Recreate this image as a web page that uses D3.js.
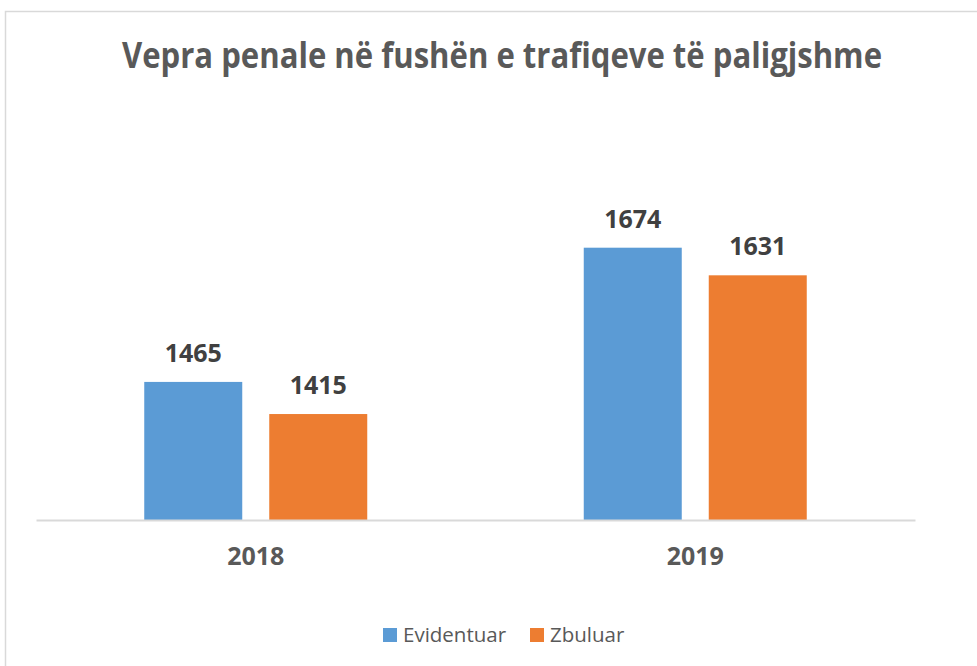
<!DOCTYPE html>
<html>
<head>
<meta charset="utf-8">
<script src="https://cdn.jsdelivr.net/npm/d3@7"></script>
<style>
  html, body { margin: 0; padding: 0; background: #fff; }
  svg { display: block; font-family: 'Open Sans', sans-serif; }
</style>
</head>
<body>
<script>
const years = ['2018', '2019'];
const seriesNames = ['Evidentuar', 'Zbuluar'];
const evidentuar = [1465, 1674];
const zbuluar = [1415, 1631];
const colors = ['#5B9BD5', '#ED7D31'];
const title = 'Vepra penale në fushën e trafiqeve të paligjshme';

const w = 977;
const h = 666;
const plot = { left: 36, right: 915, top: 231, bottom: 520 };

const dataset = years.map((y, i) => ({ year: y, values: [evidentuar[i], zbuluar[i]] }));

const svg = d3.select('body').append('svg').attr('width', w).attr('height', h);

// chart area border (cropped on right and bottom)
svg.append('rect')
   .attr('x', 5.5).attr('y', 11.5)
   .attr('width', 1000).attr('height', 1000)
   .attr('fill', '#fff')
   .attr('stroke', '#d9d9d9')
   .attr('stroke-width', 1.5);

svg.append('text')
   .text(title)
   .attr('x', 502).attr('y', 68)
   .attr('text-anchor', 'middle')
   .attr('textLength', 760)
   .attr('lengthAdjust', 'spacingAndGlyphs')
   .style('font-size', '35px')
   .style('font-weight', 'bold')
   .style('fill', '#595959');

const x0 = d3.scaleBand().domain(years).range([plot.left, plot.right]);
const x1 = d3.scaleBand().domain(seriesNames).range([0, x0.bandwidth()])
             .paddingInner(0.216).paddingOuter(0.866);
const y = d3.scaleLinear().domain([1250, 1700]).range([plot.bottom, plot.top]);

const groups = svg.selectAll('g.year')
   .data(dataset)
   .enter()
   .append('g')
   .attr('class', 'year')
   .attr('transform', (d) => 'translate(' + x0(d.year) + ',0)');

const bars = groups.selectAll('g.bar')
   .data((d) => d.values.map((v, i) => ({ name: seriesNames[i], value: v, color: colors[i] })))
   .enter()
   .append('g')
   .attr('class', 'bar');

bars.append('rect')
   .attr('x', (d) => x1(d.name))
   .attr('y', (d) => y(d.value))
   .attr('width', x1.bandwidth())
   .attr('height', (d) => plot.bottom - y(d.value))
   .style('fill', (d) => d.color);

bars.append('text')
   .text((d) => d.value)
   .attr('x', (d) => x1(d.name) + x1.bandwidth() / 2)
   .attr('y', (d) => y(d.value) - 20)
   .attr('text-anchor', 'middle')
   .style('font-size', '25px')
   .style('font-weight', 'bold')
   .style('fill', '#404040');

const xAxis = d3.axisBottom(x0).tickSize(0).tickPadding(27).tickSizeOuter(0);
const gx = svg.append('g')
   .attr('transform', 'translate(0,' + plot.bottom + ')')
   .call(xAxis);
gx.select('.domain').attr('stroke', '#d9d9d9').attr('stroke-width', 2);
gx.selectAll('text')
   .style('font-family', "'Open Sans', sans-serif")
   .style('font-size', '25px')
   .style('font-weight', 'bold')
   .style('fill', '#595959');

// legend
const legendX = [383, 530];
const legend = svg.append('g')
   .selectAll('g')
   .data(seriesNames)
   .enter()
   .append('g')
   .attr('transform', (d, i) => 'translate(' + legendX[i] + ',628)');
legend.append('rect')
   .attr('width', 14).attr('height', 14)
   .style('fill', (d, i) => colors[i]);
legend.append('text')
   .text((d) => d)
   .attr('x', 20).attr('y', 14)
   .style('font-size', '20.5px')
   .style('fill', '#595959');
</script>
</body>
</html>
